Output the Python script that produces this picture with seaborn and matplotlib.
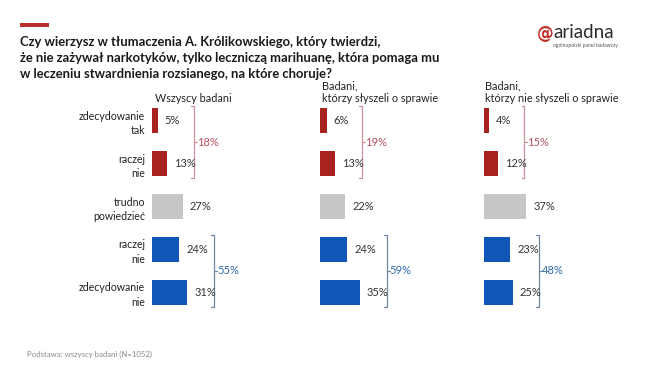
import seaborn as sns
import pandas as pd
import matplotlib.pyplot as plt
from matplotlib.patches import Rectangle

# Dane (%)
categories = ["zdecydowanie\ntak", "raczej\nnie", "trudno\npowiedzieć", "raczej\nnie", "zdecydowanie\nnie"]
panel_titles = ["Wszyscy badani", "Badani,\nktórzy słyszeli o sprawie", "Badani,\nktórzy nie słyszeli o sprawie"]
all_resp = [5, 13, 27, 24, 31]
heard = [6, 13, 22, 24, 35]
not_heard = [4, 12, 37, 23, 25]
net_yes = [18, 19, 15]
net_no = [55, 59, 48]

series = [all_resp, heard, not_heard]
bar_colors = ["#a8231f", "#a8231f", "#c6c6c6", "#0f56b8", "#0f56b8"]

W, H = 648, 366
sns.set_theme(style="white")
plt.rcParams['font.family'] = ['Lato', 'DejaVu Sans']

fig = plt.figure(figsize=(W / 100, H / 100), dpi=100)
fig.patch.set_facecolor("white")


def fx(px):
    return px / W


def fy(py):
    return 1 - py / H


# Naglowek
fig.add_artist(Rectangle((fx(20), fy(27)), fx(29), 4 / H, transform=fig.transFigure,
                         color="#b8302c", lw=0))
title = ("Czy wierzysz w tłumaczenia A. Królikowskiego, który twierdzi,\n"
         "że nie zażywał narkotyków, tylko leczniczą marihuanę, która pomaga mu\n"
         "w leczeniu stwardnienia rozsianego, na które choruje?")
fig.text(fx(20), fy(36), title, ha="left", va="top", fontsize=9.4, fontweight="bold",
         color="#1a1a1a", linespacing=1.42)

# Logo
fig.text(fx(537), fy(34), "@", ha="left", va="center", fontsize=12, color="#c0312b",
         fontweight="bold", family=["DejaVu Sans"])
fig.text(fx(553), fy(32), "ariadna", ha="left", va="center", fontsize=13.5, color="#2b2b2b")
fig.text(fx(553), fy(46), "ogólnopolski panel badawczy", ha="left", va="center",
         fontsize=3.6, color="#555555")

# Stopka
fig.text(fx(27), fy(354), "Podstawa: wszyscy badani (N=1052)", ha="left", va="center",
         fontsize=5.6, color="#8a8a8a")

lefts = [152, 320, 484]
title_x = [155, 322, 485]
px_per_pct = 1.14
ax_w = 114
top, bottom = 99.5, 313.5
keys = [str(i) for i in range(len(categories))]

for i, vals in enumerate(series):
    ax = fig.add_axes([fx(lefts[i]), fy(bottom), ax_w / W, (bottom - top) / H])
    df = pd.DataFrame({"key": keys, "pct": vals})
    sns.barplot(data=df, x="pct", y="key", hue="key", palette=bar_colors, legend=False,
                width=0.58, ax=ax, edgecolor="none", saturation=1)
    ax.set_xlim(0, ax_w / px_per_pct)
    ax.set_ylim(4.5, -0.5)
    for c in ax.containers:
        ax.bar_label(c, fmt="%d%%", padding=5, fontsize=8, color="#333333")
    ax.set_xlabel("")
    ax.set_ylabel("")
    ax.set_xticks([])
    if i == 0:
        ax.set_yticks(range(len(categories)))
        ax.set_yticklabels(categories, fontsize=7.6, color="#222222", linespacing=1.4)
        ax.tick_params(axis="y", length=0, pad=5)
    else:
        ax.set_yticks([])
    sns.despine(ax=ax, left=True, bottom=True)
    ax.patch.set_alpha(0)

    # Nawiasy grupujace
    groups = [((0, 1), net_yes[i], "#c9959b", "#b4535e"),
              ((3, 4), net_no[i], "#6f86a0", "#2f6aa8")]
    for (a, b), net, lc, tc in groups:
        bx = max(vals[a], vals[b]) + 23.5
        y0, y1 = a - 0.34, b + 0.34
        ym = (y0 + y1) / 2
        ax.plot([bx - 2.6, bx, bx, bx - 2.6], [y0, y0, y1, y1], color=lc, lw=0.9,
                clip_on=False)
        ax.plot([bx, bx + 2.6], [ym, ym], color=lc, lw=0.9, clip_on=False)
        ax.text(bx + 2.6, ym, f"{net}%", ha="left", va="center", fontsize=8,
                color=tc, clip_on=False)

    fig.text(fx(title_x[i]), fy(104), panel_titles[i], ha="left", va="bottom",
             fontsize=7.8, color="#222222", linespacing=1.2)

fig.savefig("out.png", dpi=100)
